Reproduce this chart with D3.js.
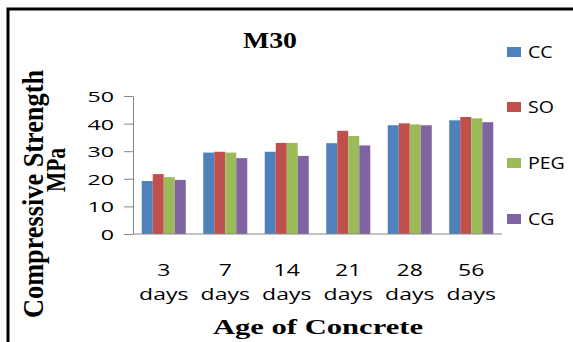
<!DOCTYPE html>
<html>
<head>
<meta charset="utf-8">
<script src="https://cdn.jsdelivr.net/npm/d3@7"></script>
<style>
  html, body { margin: 0; padding: 0; background: #fff; }
  svg { display: block; }
</style>
</head>
<body>
<svg id="chart" width="573" height="342"></svg>
<script>
// Compressive strength of M30 concrete by curing method and age
const ages = ["3 days", "7 days", "14 days", "21 days", "28 days", "56 days"];
const seriesNames = ["CC", "SO", "PEG", "CG"];
const ccValues  = [19.2, 29.5, 29.8, 32.9, 39.4, 41.2];
const soValues  = [21.7, 29.8, 33.0, 37.4, 40.1, 42.4];
const pegValues = [20.6, 29.5, 33.0, 35.5, 39.7, 41.9];
const cgValues  = [19.6, 27.5, 28.3, 32.1, 39.4, 40.5];
const yTicks = [0, 10, 20, 30, 40, 50];
const colors = ["#4F81BD", "#C0504D", "#9BBB59", "#8064A2"];

const seriesValues = [ccValues, soValues, pegValues, cgValues];

const svg = d3.select("#chart");

// widen text horizontally by factor k
function stretch(sel, k) {
  sel.each(function () {
    const w = this.getComputedTextLength();
    d3.select(this).attr("textLength", w * k).attr("lengthAdjust", "spacingAndGlyphs");
  });
}

// frame (top and left edges)
svg.append("path")
  .attr("d", "M8,342 V9 H573")
  .attr("fill", "none")
  .attr("stroke", "#000")
  .attr("stroke-width", 3);

const plot = { left: 133, right: 502, top: 96, bottom: 234 };

const x0 = d3.scaleBand()
  .domain(ages)
  .range([plot.left, plot.right])
  .paddingInner(0.284)
  .paddingOuter(0.142);

const x1 = d3.scaleBand()
  .domain(seriesNames)
  .range([0, x0.bandwidth()]);

const y = d3.scaleLinear()
  .domain([0, 50])
  .range([plot.bottom, plot.top]);

// bars
const groups = svg.append("g")
  .selectAll("g")
  .data(ages)
  .join("g")
  .attr("transform", d => `translate(${x0(d)},0)`);

groups.selectAll("rect")
  .data((d, i) => seriesNames.map((s, j) => ({ s, j, v: seriesValues[j][i] })))
  .join("rect")
  .attr("x", d => x1(d.s))
  .attr("y", d => y(d.v))
  .attr("width", x1.bandwidth())
  .attr("height", d => y(0) - y(d.v))
  .attr("fill", d => colors[d.j]);

// y axis
const yAxis = svg.append("g")
  .attr("transform", `translate(${plot.left},0)`)
  .call(d3.axisLeft(y).tickValues(yTicks).tickSize(9).tickPadding(10).tickSizeOuter(0));
yAxis.select(".domain").attr("stroke", "#868686");
yAxis.selectAll(".tick line").attr("stroke", "#868686");
yAxis.selectAll("text")
  .attr("font-family", "'Open Sans', sans-serif")
  .attr("font-size", 15)
  .attr("fill", "#000")
  .attr("dy", "0.36em");
stretch(yAxis.selectAll("text"), 1.55);

// x axis line
svg.append("line")
  .attr("x1", plot.left).attr("x2", plot.right)
  .attr("y1", plot.bottom).attr("y2", plot.bottom)
  .attr("stroke", "#868686");

// x labels (two lines)
const xl = svg.append("g")
  .selectAll("text")
  .data(ages)
  .join("text")
  .attr("x", d => x0(d) + x0.bandwidth() / 2)
  .attr("y", 276)
  .attr("text-anchor", "middle")
  .attr("font-family", "'Open Sans', sans-serif")
  .attr("font-size", 17)
  .attr("fill", "#000");
xl.each(function (d) {
  const parts = d.split(" ");
  const t = d3.select(this);
  const cx = t.attr("x");
  t.append("tspan").attr("x", cx).attr("y", 276).text(parts[0]);
  t.append("tspan").attr("x", cx).attr("y", 300).text(parts[1]);
});
xl.selectAll("tspan").each(function () {
  const w = this.getComputedTextLength();
  d3.select(this).attr("textLength", w * 1.35).attr("lengthAdjust", "spacingAndGlyphs");
});

// title
svg.append("text")
  .attr("x", 270).attr("y", 48)
  .attr("text-anchor", "middle")
  .attr("font-family", "'Liberation Serif', 'Times New Roman', serif")
  .attr("font-weight", "bold")
  .attr("font-size", 24)
  .attr("textLength", 54).attr("lengthAdjust", "spacingAndGlyphs")
  .text("M30");

// x axis title
svg.append("text")
  .attr("x", 318).attr("y", 334)
  .attr("text-anchor", "middle")
  .attr("font-family", "'Liberation Serif', 'Times New Roman', serif")
  .attr("font-weight", "bold")
  .attr("font-size", 21)
  .attr("textLength", 210).attr("lengthAdjust", "spacingAndGlyphs")
  .text("Age of Concrete");

// y axis title, glyphs widened across the page
const yt = svg.append("g").attr("transform", "translate(0,194) scale(1.45,1) rotate(-90)");
yt.append("text")
  .attr("x", 0).attr("y", 30)
  .attr("text-anchor", "middle")
  .attr("font-family", "'Liberation Serif', 'Times New Roman', serif")
  .attr("font-weight", "bold")
  .attr("font-size", 21)
  .attr("textLength", 248).attr("lengthAdjust", "spacingAndGlyphs")
  .text("Compressive Strength");
yt.append("text")
  .attr("x", 24).attr("y", 45)
  .attr("text-anchor", "middle")
  .attr("font-family", "'Liberation Serif', 'Times New Roman', serif")
  .attr("font-weight", "bold")
  .attr("font-size", 19)
  .attr("textLength", 44).attr("lengthAdjust", "spacingAndGlyphs")
  .text("MPa");

// legend
const legendY = [52, 107, 163, 219];
const lg = svg.append("g")
  .selectAll("g")
  .data(seriesNames)
  .join("g")
  .attr("transform", (d, i) => `translate(507,${legendY[i]})`);
lg.append("rect")
  .attr("x", 0).attr("y", -5)
  .attr("width", 14).attr("height", 10)
  .attr("fill", (d, i) => colors[i]);
const lt = lg.append("text")
  .attr("x", 21).attr("y", 0)
  .attr("dy", "0.36em")
  .attr("font-family", "'Open Sans', sans-serif")
  .attr("font-size", 17)
  .attr("fill", "#000")
  .text(d => d);
stretch(lt, 1.15);
</script>
</body>
</html>
